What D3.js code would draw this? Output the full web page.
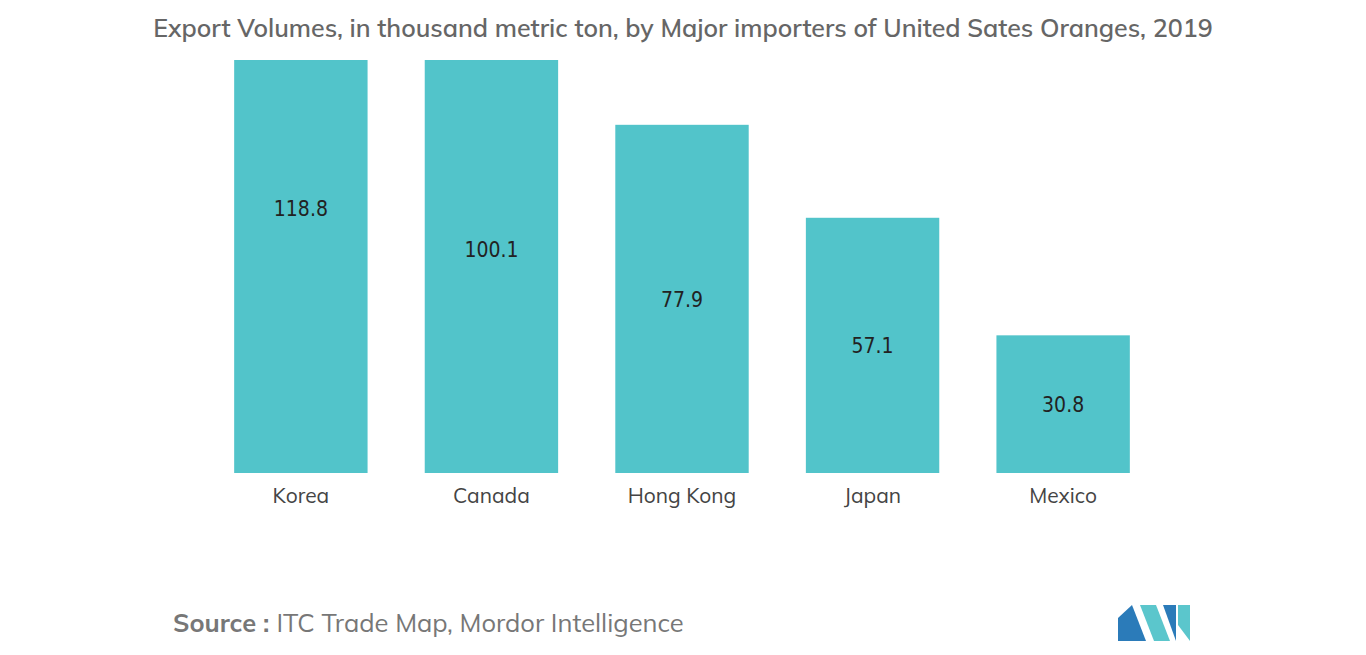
<!DOCTYPE html>
<html><head><meta charset="utf-8">
<script src="https://cdn.jsdelivr.net/npm/d3@7"></script>
<style>body{margin:0;background:#fff}</style>
</head><body>
<svg id="c" width="1366" height="655"></svg>
<script>
const categories = ["Korea","Canada","Hong Kong","Japan","Mexico"];
const values = [118.8,100.1,77.9,57.1,30.8];
const svg = d3.select("#c");
const font = "Mulish, Lato, 'Open Sans', sans-serif";
const x = d3.scaleBand().domain(categories).range([177,1187]).paddingInner(0.3).paddingOuter(0.3);
const y = d3.scaleLinear().domain([0,92.4]).range([473,60]);
svg.append("text").attr("x",683).attr("y",37).attr("text-anchor","middle")
  .attr("font-family",font).attr("font-size",25).attr("font-weight",600).attr("fill","#666")
  .text("Export Volumes, in thousand metric ton, by Major importers of United Sates Oranges, 2019");
svg.selectAll("rect.b").data(values).join("rect").attr("class","b")
  .attr("x",(d,i)=>x(categories[i])).attr("width",x.bandwidth())
  .attr("y",d=>Math.max(y(d),60)).attr("height",d=>473-Math.max(y(d),60)).attr("fill","#52c4ca");
svg.selectAll("text.v").data(values).join("text").attr("class","v")
  .attr("x",(d,i)=>x(categories[i])+x.bandwidth()/2).attr("y",d=>(y(d)+473)/2+8)
  .attr("text-anchor","middle").attr("font-family","'DejaVu Sans Condensed','DejaVu Sans', sans-serif").attr("font-size",21).attr("fill","#222")
  .text(d=>d.toFixed(1));
const ax = svg.append("g").attr("transform","translate(0,473)").call(d3.axisBottom(x).tickSize(0).tickPadding(15));
ax.select(".domain").remove();
ax.selectAll("text").attr("font-family",font).attr("font-size",21).attr("fill","#444");
const s = svg.append("text").attr("x",173).attr("y",632).attr("font-family",font).attr("font-size",25.5).attr("fill","#777");
s.append("tspan").attr("font-weight",700).text("Source : ");
s.append("tspan").text("ITC Trade Map, Mordor Intelligence");
const g = svg.append("g");
g.append("polygon").attr("points","1118,641 1118,618 1132,605 1146,641").attr("fill","#2b7bb9");
g.append("polygon").attr("points","1140,605 1156,605 1170,641 1154,641").attr("fill","#5bc6cc");
g.append("polygon").attr("points","1163,605 1176,605 1176,641").attr("fill","#2b7bb9");
g.append("polygon").attr("points","1178,605 1190,605 1190,641 1178,625").attr("fill","#5bc6cc");
</script>
</body></html>
